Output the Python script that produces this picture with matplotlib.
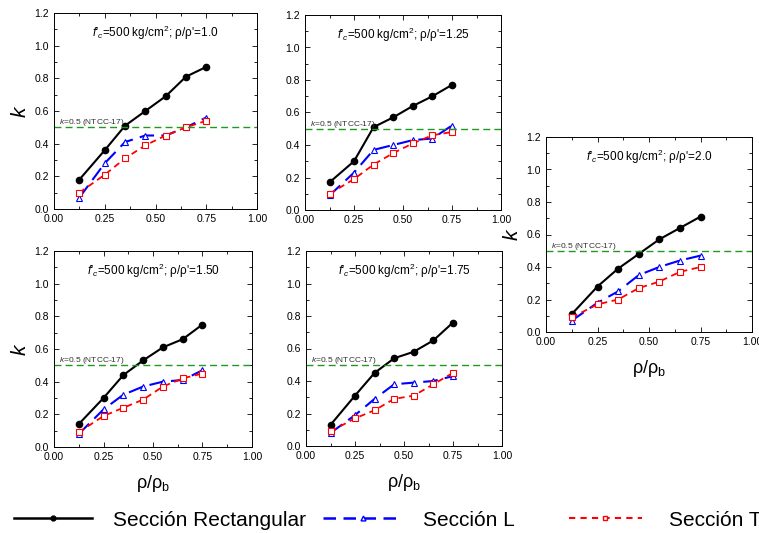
import numpy as np
import matplotlib.pyplot as plt
from matplotlib.ticker import MultipleLocator

plt.rcParams['font.family'] = ['Liberation Sans', 'DejaVu Sans']
plt.rcParams['mathtext.fontset'] = 'custom'
plt.rcParams['mathtext.rm'] = 'Liberation Sans'
plt.rcParams['mathtext.it'] = 'Liberation Sans:italic'

x = [0.125, 0.25, 0.35, 0.45, 0.55, 0.65, 0.75]
ratios = ["1.0", "1.25", "1.50", "1.75", "2.0"]

rect = [
    [0.18, 0.36, 0.51, 0.60, 0.69, 0.81, 0.87],
    [0.17, 0.30, 0.51, 0.57, 0.64, 0.70, 0.77],
    [0.14, 0.30, 0.44, 0.53, 0.61, 0.66, 0.75],
    [0.13, 0.31, 0.45, 0.54, 0.58, 0.65, 0.76],
    [0.11, 0.28, 0.39, 0.48, 0.57, 0.64, 0.71],
]
sec_l = [
    [0.07, 0.28, 0.41, 0.45, 0.45, 0.50, 0.56],
    [0.09, 0.23, 0.37, 0.40, 0.43, 0.44, 0.52],
    [0.08, 0.23, 0.32, 0.37, 0.40, 0.41, 0.47],
    [0.08, 0.19, 0.29, 0.38, 0.39, 0.40, 0.43],
    [0.07, 0.18, 0.25, 0.35, 0.40, 0.44, 0.47],
]
sec_t = [
    [0.10, 0.21, 0.31, 0.39, 0.45, 0.50, 0.54],
    [0.10, 0.19, 0.28, 0.35, 0.41, 0.46, 0.48],
    [0.09, 0.19, 0.24, 0.29, 0.37, 0.42, 0.45],
    [0.09, 0.17, 0.22, 0.29, 0.31, 0.38, 0.45],
    [0.09, 0.17, 0.20, 0.27, 0.31, 0.37, 0.40],
]

W, H = 759, 533
fig = plt.figure(figsize=(W / 100, H / 100), dpi=100)

# axes boxes in pixels: left, top, right, bottom
boxes = [
    (54, 13, 257, 209),
    (305, 15, 501, 210),
    (54, 251, 252, 447),
    (306, 251, 502, 446),
    (546, 137, 752, 332),
]
show_xlabel = [False, False, True, True, True]
show_ylabel = [True, False, True, False, True]

for i, (l, t, r, b) in enumerate(boxes):
    ax = fig.add_axes([l / W, (H - b) / H, (r - l) / W, (b - t) / H])
    ax.plot(x, rect[i], '-', color='black', lw=1.5, marker='o', ms=4.5)
    ax.plot(x, sec_l[i], color='blue', lw=1.5, dashes=(7, 3.5), marker='^',
            ms=4.5, mfc='white', mec='blue', mew=0.8)
    ax.plot(x, sec_t[i], color='red', lw=1.3, dashes=(3.5, 2.5), marker='s',
            ms=4, mfc='white', mec='red', mew=0.8)
    ax.axhline(0.5, color='#1f9a1f', lw=1.0, dashes=(5, 3))
    ax.text(0.025, 0.52, r'$k$=0.5 (NTCC-17)', fontsize=6, color='#333333')
    ax.text(0.5, 1.08, r"$f$'$_c$=500 kg/cm$^2$; ρ/ρ'=" + ratios[i],
            fontsize=8.5, ha='center', va='center')
    ax.set_xlim(0, 1)
    ax.set_ylim(0, 1.2)
    ax.xaxis.set_major_locator(MultipleLocator(0.25))
    ax.xaxis.set_minor_locator(MultipleLocator(0.125))
    ax.yaxis.set_major_locator(MultipleLocator(0.2))
    ax.yaxis.set_minor_locator(MultipleLocator(0.1))
    ax.xaxis.set_major_formatter(plt.FormatStrFormatter('%.2f'))
    ax.yaxis.set_major_formatter(plt.FormatStrFormatter('%.1f'))
    ax.tick_params(which='both', direction='in', top=True, right=True,
                   labelsize=7.5, width=0.6)
    ax.tick_params(which='major', length=3.5)
    ax.tick_params(which='minor', length=2)
    for s in ax.spines.values():
        s.set_linewidth(0.7)
    if show_ylabel[i]:
        ax.set_ylabel(r'$k$', fontsize=15, labelpad=3)
    if show_xlabel[i]:
        ax.set_xlabel(r'ρ/ρ$_\mathrm{b}$', fontsize=13, labelpad=8)

# legend entries placed one by one along the bottom
handles = [
    plt.Line2D([], [], color='black', lw=1.8, marker='o', ms=3.5),
    plt.Line2D([], [], color='blue', lw=1.8, dashes=(5, 3), marker='^',
               ms=3.5, mfc='white', mec='blue'),
    plt.Line2D([], [], color='red', lw=1.5, dashes=(3, 2.5), marker='s',
               ms=3.5, mfc='white', mec='red'),
]
labels = ["Sección Rectangular", "Sección L", "Sección T"]
starts = [14, 323, 569]
hlens = [3.75, 3.8, 3.5]
pads = [1.0, 1.0, 1.3]
for h, lab, s, hl, pd in zip(handles, labels, starts, hlens, pads):
    leg = fig.legend([h], [lab], loc='center left',
                     bbox_to_anchor=(s / W, 1 - 520 / H), frameon=False,
                     fontsize=15, handlelength=hl, handletextpad=pd,
                     borderpad=0, borderaxespad=0)

fig.savefig('out.png', dpi=100)
